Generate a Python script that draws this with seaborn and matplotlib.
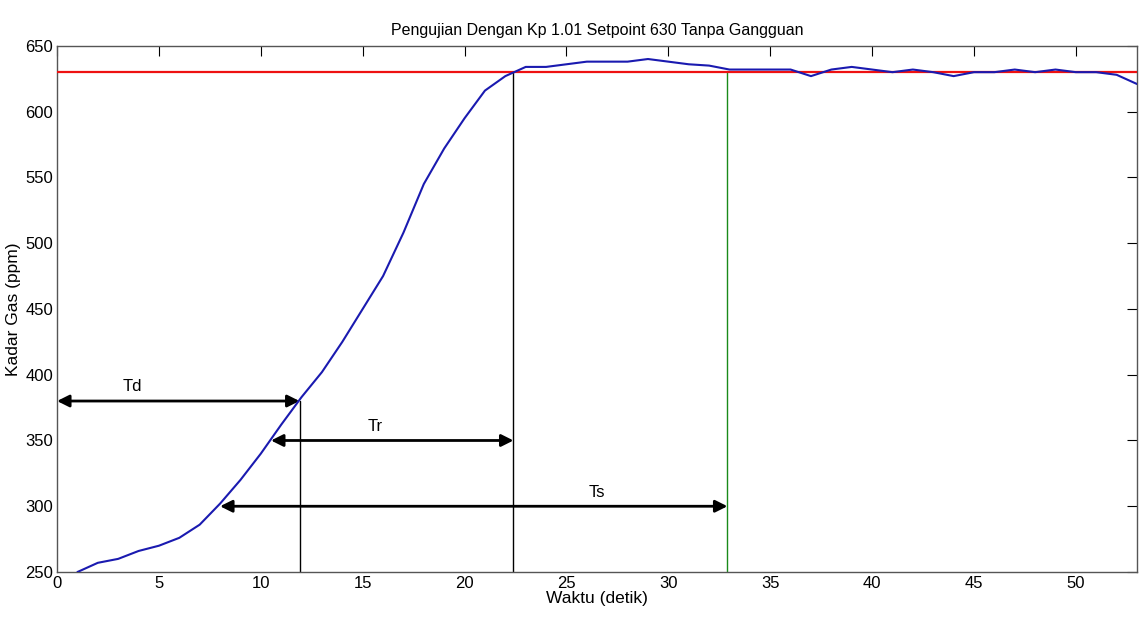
import pandas as pd
import matplotlib
matplotlib.use("Agg")
import matplotlib.pyplot as plt
import seaborn as sns

# data
waktu = list(range(1, 54))
kadar_gas = [250, 257, 260, 266, 270, 276, 286, 302, 320, 340,
             362, 383, 402, 425, 450, 475, 508, 545, 572, 595,
             616, 627, 634, 634, 636, 638, 638, 638, 640, 638,
             636, 635, 632, 632, 632, 632, 627, 632, 634, 632,
             630, 632, 630, 627, 630, 630, 632, 630, 632, 630,
             630, 628, 621]
setpoint = 630
td, tr, ts = 11.9, 22.4, 32.9
tr_start, ts_start = 10.5, 8.0
td_level, tr_level, ts_level = 380, 350, 300


def main():
    sns.set_style("white")
    plt.rcParams['font.family'] = ['Liberation Sans', 'DejaVu Sans']
    plt.rcParams['xtick.direction'] = 'in'
    plt.rcParams['ytick.direction'] = 'in'
    plt.rcParams['text.color'] = 'black'
    plt.rcParams['axes.labelcolor'] = 'black'
    plt.rcParams['xtick.color'] = 'black'
    plt.rcParams['ytick.color'] = 'black'

    df = pd.DataFrame({"waktu": waktu, "kadar": kadar_gas})

    fig = plt.figure(figsize=(11.41, 6.37), dpi=100)
    ax = fig.add_axes([0.05, 0.102, 0.9465, 0.826])

    ax.axhline(setpoint, color="#ee1111", lw=1.6, zorder=3)
    sns.lineplot(data=df, x="waktu", y="kadar", color="#1a1ab0", lw=1.5, ax=ax, zorder=4)

    # marker lines
    ax.plot([td, td], [250, td_level], color="black", lw=1)
    ax.plot([tr, tr], [250, setpoint], color="black", lw=1)
    ax.plot([ts, ts], [250, setpoint], color="#1a8a1a", lw=1)

    arrow = dict(arrowstyle="<|-|>", color="black", lw=2, mutation_scale=18, shrinkA=0, shrinkB=0)
    ax.annotate("", xy=(td, td_level), xytext=(0, td_level), arrowprops=arrow)
    ax.annotate("", xy=(tr, tr_level), xytext=(tr_start, tr_level), arrowprops=arrow)
    ax.annotate("", xy=(ts, ts_level), xytext=(ts_start, ts_level), arrowprops=arrow)
    ax.text(3.7, td_level + 5, "Td", ha="center", va="bottom", fontsize=12)
    ax.text(15.6, tr_level + 5, "Tr", ha="center", va="bottom", fontsize=12)
    ax.text(26.5, ts_level + 5, "Ts", ha="center", va="bottom", fontsize=12)

    ax.set_xlim(0, 53)
    ax.set_ylim(250, 650)
    ax.set_xticks(range(0, 51, 5))
    ax.set_yticks(range(250, 651, 50))
    ax.tick_params(axis="both", labelsize=12, top=True, right=True, length=7, width=0.8, pad=3)
    for s in ax.spines.values():
        s.set_color("#555555")
        s.set_linewidth(1)

    ax.set_xlabel("Waktu (detik)", fontsize=12.5, labelpad=0)
    ax.set_ylabel("Kadar Gas (ppm)", fontsize=12.5, labelpad=3)
    ax.set_title("Pengujian Dengan Kp 1.01 Setpoint 630 Tanpa Gangguan", fontsize=11.5, pad=8)

    plt.savefig("out.png", dpi=100)


if __name__ == "__main__":
    main()
